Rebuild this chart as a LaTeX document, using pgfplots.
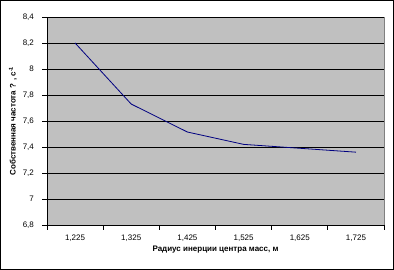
\documentclass[border=0pt]{standalone}
\usepackage{fontspec}
\setmainfont{Liberation Sans}
\usepackage{pgfplots}
\pgfplotsset{compat=1.18}
\definecolor{plotgray}{HTML}{C0C0C0}
\definecolor{framegray}{HTML}{808080}
\definecolor{navyline}{HTML}{000080}
\begin{document}
\begin{tikzpicture}
\begin{axis}[
  name=ax,
  scale only axis,
  width=337bp, height=208bp,
  xmin=-0.5, xmax=5.5,
  ymin=6.8, ymax=8.4,
  axis x line*=bottom,
  axis y line*=left,
  axis line style={black, line width=0.8bp},
  axis background/.style={fill=plotgray, draw=framegray, line width=0.8bp},
  xtick={0,1,2,3,4,5},
  xticklabels={{1,225},{1,325},{1,425},{1,525},{1,625},{1,725}},
  major x tick style={draw=none},
  minor xtick={-0.5,0.5,1.5,2.5,3.5,4.5,5.5},
  minor tick length=4.5bp,
  minor x tick style={black, line width=0.8bp},
  ytick={6.8,7,7.2,7.4,7.6,7.8,8,8.2,8.4},
  major tick length=4.5bp,
  tick align=outside,
  ytick style={black, line width=0.8bp},
  ymajorgrids,
  grid style={black, line width=0.8bp},
  /pgf/number format/assume math mode=true,
  /pgf/number format/use comma,
  /pgf/number format/fixed,
  /pgf/number format/precision=1,
  tick label style={font=\fontsize{8bp}{9.5bp}\selectfont},
  yticklabel style={xshift=-5bp},
  xticklabel style={yshift=-2bp},
  xlabel={\bfseries Радиус инерции центра масс, м},
  ylabel={\bfseries Собственная частота ? , с\textsuperscript{-1}},
  label style={font=\fontsize{8bp}{9.5bp}\selectfont},
  xlabel style={yshift=3bp},
  ylabel style={yshift=-1bp},
  clip=false,
]
\addplot[navyline, line width=0.8bp] coordinates {
  (0,8.20) (1,7.73) (2,7.515) (3,7.42) (4,7.39) (5,7.36)
};
\end{axis}
\draw[black, line width=0.8bp] ([shift={(-46.5bp,-44.5bp)}]ax.south west) rectangle ([shift={(9.5bp,16.5bp)}]ax.north east);
\end{tikzpicture}
\end{document}
